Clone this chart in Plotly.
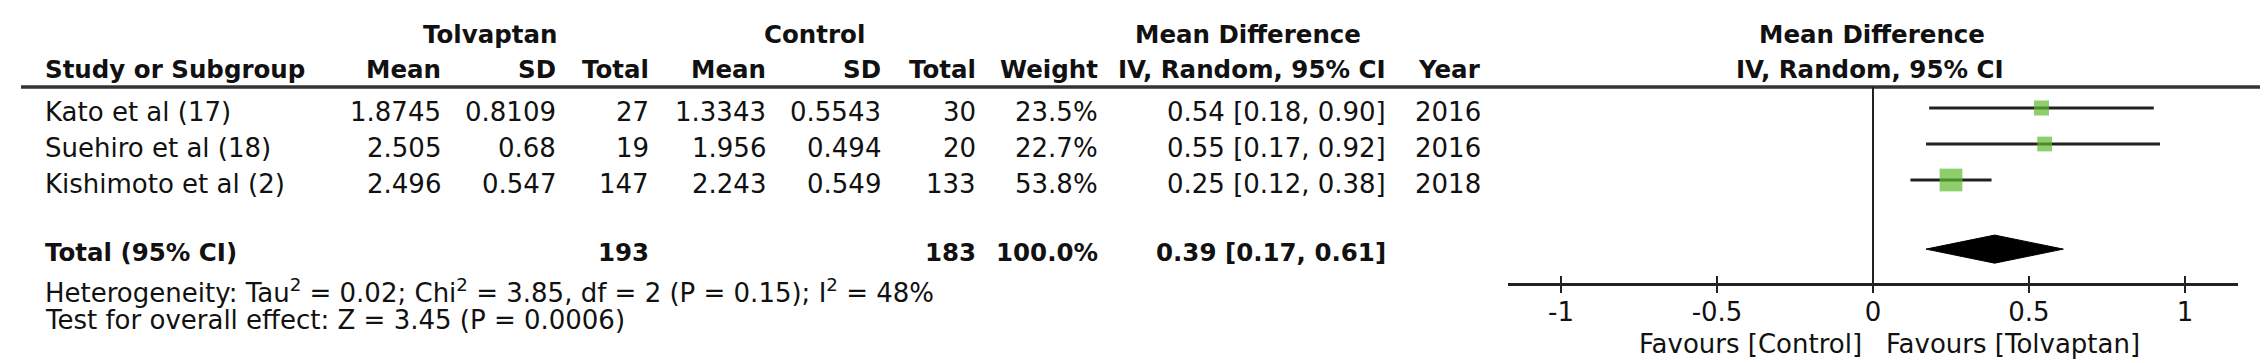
import plotly.graph_objects as go

# ---------------- data ----------------
studies = ["Kato et al (17)", "Suehiro et al (18)", "Kishimoto et al (2)"]
tol_mean = [1.8745, 2.505, 2.496]
tol_sd = [0.8109, 0.68, 0.547]
tol_n = [27, 19, 147]
ctl_mean = [1.3343, 1.956, 2.243]
ctl_sd = [0.5543, 0.494, 0.549]
ctl_n = [30, 20, 133]
weights = [23.5, 22.7, 53.8]
md = [0.54, 0.55, 0.25]
md_lo = [0.18, 0.17, 0.12]
md_hi = [0.90, 0.92, 0.38]
years = [2016, 2016, 2018]

total_label = "Total (95% CI)"
total_tol_n = 193
total_ctl_n = 183
total_weight = 100.0
pooled_md = 0.39
pooled_lo = 0.17
pooled_hi = 0.61

heterogeneity = "Heterogeneity: Tau<sup>2</sup> = 0.02; Chi<sup>2</sup> = 3.85, df = 2 (P = 0.15); I<sup>2</sup> = 48%"
overall_effect = "Test for overall effect: Z = 3.45 (P = 0.0006)"

tick_vals = [-1, -0.5, 0, 0.5, 1]
tick_text = ["-1", "-0.5", "0", "0.5", "1"]
favours_left = "Favours [Control]"
favours_right = "Favours [Tolvaptan]"

# ---------------- layout constants ----------------
W, H = 2268, 363
FONT = "DejaVu Sans"
FS = 26
FSB = 24.5
GREEN = "#5fb92d"
TOTAL_ROW = 4


def px_x(p):
    return p / W


def px_y(p):
    return 1 - p / H


fig = go.Figure()

# CI lines with square point estimates
fig.add_trace(go.Scatter(
    x=md, y=list(range(len(studies))), mode="markers",
    marker=dict(symbol="square", color=GREEN,
                size=[3.1 * (w ** 0.5) for w in weights], line=dict(width=0)),
    error_x=dict(type="data", symmetric=False,
                 array=[h - m for h, m in zip(md_hi, md)],
                 arrayminus=[m - l for m, l in zip(md, md_lo)],
                 width=0, thickness=3, color="#222222"),
    hoverinfo="skip", showlegend=False, xaxis="x", yaxis="y",
))

# pooled diamond
dh = 0.39
fig.add_trace(go.Scatter(
    x=[pooled_lo, pooled_md, pooled_hi, pooled_md, pooled_lo],
    y=[TOTAL_ROW - 0.08, TOTAL_ROW - 0.08 - dh, TOTAL_ROW - 0.08, TOTAL_ROW - 0.08 + dh, TOTAL_ROW - 0.08],
    mode="lines", fill="toself", fillcolor="#000000",
    line=dict(color="#000000", width=1),
    hoverinfo="skip", showlegend=False, xaxis="x", yaxis="y",
))

annotations = []


def txt(text, x_px, y, anchor, bold=False, yref="paper", yshift=0, xref="paper"):
    annotations.append(dict(
        text=f"<b>{text}</b>" if bold else text,
        x=px_x(x_px) if xref == "paper" else x_px, y=y,
        xref=xref, yref=yref, xanchor=anchor, yanchor="middle",
        showarrow=False, yshift=yshift,
        font=dict(family=FONT, size=FSB if bold else FS, color="#111111"),
    ))


# header row 1
H1, H2 = 27, 62
txt("Tolvaptan", 482, px_y(H1), "center", True)
txt("Control", 806, px_y(H1), "center", True)
txt("Mean Difference", 1240, px_y(H1), "center", True)
txt("Mean Difference", 1864, px_y(H1), "center", True)

# column right edges
cols = dict(tm=435, tsd=550, tn=643, cm=760, csd=875, cn=970, w=1092, ci=1380, yr=1475)
LEFT = 35

txt("Study or Subgroup", LEFT, px_y(H2), "left", True)
for key, lab in [("tm", "Mean"), ("tsd", "SD"), ("tn", "Total"), ("cm", "Mean"),
                 ("csd", "SD"), ("cn", "Total"), ("w", "Weight"),
                 ("ci", "IV, Random, 95% CI"), ("yr", "Year")]:
    txt(lab, cols[key], px_y(H2), "right", True)
txt("IV, Random, 95% CI", 1862, px_y(H2), "center", True)

# study rows
TS = -4
for i, s in enumerate(studies):
    txt(s, LEFT, i, "left", yref="y", yshift=TS)
    txt(str(tol_mean[i]), cols["tm"], i, "right", yref="y", yshift=TS)
    txt(str(tol_sd[i]), cols["tsd"], i, "right", yref="y", yshift=TS)
    txt(str(tol_n[i]), cols["tn"], i, "right", yref="y", yshift=TS)
    txt(str(ctl_mean[i]), cols["cm"], i, "right", yref="y", yshift=TS)
    txt(str(ctl_sd[i]), cols["csd"], i, "right", yref="y", yshift=TS)
    txt(str(ctl_n[i]), cols["cn"], i, "right", yref="y", yshift=TS)
    txt(f"{weights[i]:.1f}%", cols["w"], i, "right", yref="y", yshift=TS)
    txt(f"{md[i]:.2f} [{md_lo[i]:.2f}, {md_hi[i]:.2f}]", cols["ci"], i, "right", yref="y", yshift=TS)
    txt(str(years[i]), cols["yr"], i, "right", yref="y", yshift=TS)

# total row
TT = 0
txt(total_label, LEFT, TOTAL_ROW, "left", True, yref="y", yshift=TT)
txt(str(total_tol_n), cols["tn"], TOTAL_ROW, "right", True, yref="y", yshift=TT)
txt(str(total_ctl_n), cols["cn"], TOTAL_ROW, "right", True, yref="y", yshift=TT)
txt(f"{total_weight:.1f}%", cols["w"], TOTAL_ROW, "right", True, yref="y", yshift=TT)
txt(f"{pooled_md:.2f} [{pooled_lo:.2f}, {pooled_hi:.2f}]", cols["ci"], TOTAL_ROW, "right", True, yref="y", yshift=TT)

txt(heterogeneity, LEFT, px_y(283), "left")
txt(overall_effect, LEFT, px_y(312), "left")

# favours labels
annotations.append(dict(text=favours_left, x=0, xref="x", y=px_y(336), yref="paper",
                        xanchor="right", yanchor="middle", xshift=-9, showarrow=False,
                        font=dict(family=FONT, size=FS, color="#111111")))
annotations.append(dict(text=favours_right, x=0, xref="x", y=px_y(336), yref="paper",
                        xanchor="left", yanchor="middle", xshift=11, showarrow=False,
                        font=dict(family=FONT, size=FS, color="#111111")))

AXIS_Y = 276
shapes = [
    dict(type="line", xref="paper", yref="paper", x0=px_x(13), x1=px_x(2256),
         y0=px_y(79), y1=px_y(79), line=dict(color="#333333", width=3.5)),
    dict(type="line", xref="x", yref="paper", x0=0, x1=0,
         y0=px_y(79), y1=px_y(AXIS_Y), line=dict(color="#222222", width=2)),
]

X_RANGE = [-1.17, 1.17]
x_dom = [px_x(1500), px_x(2230)]

fig.update_layout(
    width=W, height=H, autosize=False,
    margin=dict(l=0, r=0, t=0, b=0, pad=0),
    paper_bgcolor="white", plot_bgcolor="rgba(0,0,0,0)",
    xaxis=dict(domain=x_dom, range=X_RANGE, anchor="free", position=px_y(AXIS_Y),
               showline=True, linecolor="#222222", linewidth=3,
               ticks="outside", ticklen=7, tickwidth=2, tickcolor="#222222",
               ticklabelstandoff=-3,
               tickvals=tick_vals, ticktext=tick_text,
               tickfont=dict(family=FONT, size=FS, color="#111111"),
               showgrid=False, zeroline=False, fixedrange=True),
    xaxis2=dict(domain=x_dom, range=X_RANGE, matches="x", overlaying="x", side="top",
                anchor="free", position=px_y(AXIS_Y),
                showline=False, ticks="outside", ticklen=8, tickwidth=2, tickcolor="#222222",
                tickvals=tick_vals, showticklabels=False,
                showgrid=False, zeroline=False),
    yaxis=dict(domain=[0, 1], range=[(H - 100) / 36, -100 / 36], visible=False,
               fixedrange=True),
    annotations=annotations,
    shapes=shapes,
)

# an empty trace so that xaxis2 is drawn
fig.add_trace(go.Scatter(x=[None], y=[None], xaxis="x2", yaxis="y", showlegend=False,
                         hoverinfo="skip"))

fig.write_html("out.html")
